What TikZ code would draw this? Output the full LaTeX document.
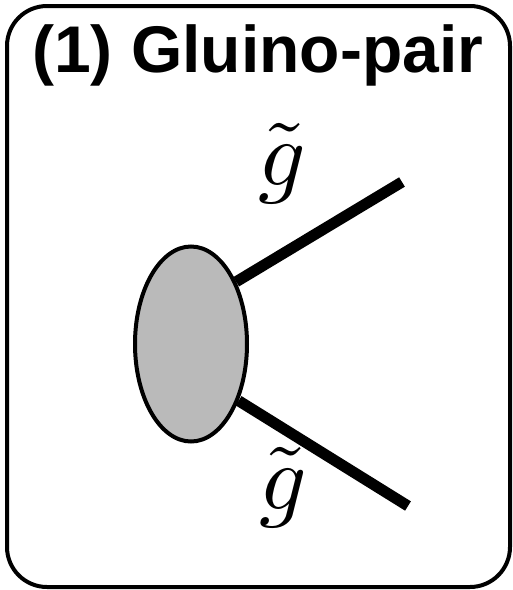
\documentclass[tikz,border=0pt]{standalone}
\usepackage{amsmath}
\usepackage{fontspec}
\setsansfont{Liberation Sans}
\usetikzlibrary{shapes.geometric,arrows.meta}

\begin{document}
\begin{tikzpicture}[x=1pt, y=-1pt,
    leg/.style={line width=11pt},
    glabel/.style={inner sep=0pt, scale=9.3}]

\useasboundingbox (0,0) rectangle (513,590);

% Caixa
\draw[line width=4pt, rounded corners=40pt] (7,6) rectangle (510,587);

% Titol
\node[anchor=base west, inner sep=0pt, font=\fontsize{66}{72}\selectfont\sffamily\bfseries]
    (title) at (32,72) {(1) Gluino-pair};

% Vertex
\node[ellipse, draw, line width=4pt, fill=black!27,
    minimum width=112pt, minimum height=195pt, inner sep=0pt]
    (blob) at (191,344) {};

% Gluinos
\coordinate (endA) at (402,182);
\coordinate (endB) at (408,506);

\draw[leg] (blob.54) -- (endA);
\draw[leg] (blob.-50) -- (endB);

\node[glabel, anchor=base] (labA) at (282,185) {$\tilde g$};
\node[glabel, anchor=base] (labB) at (283,509) {$\tilde g$};

\end{tikzpicture}
\end{document}
